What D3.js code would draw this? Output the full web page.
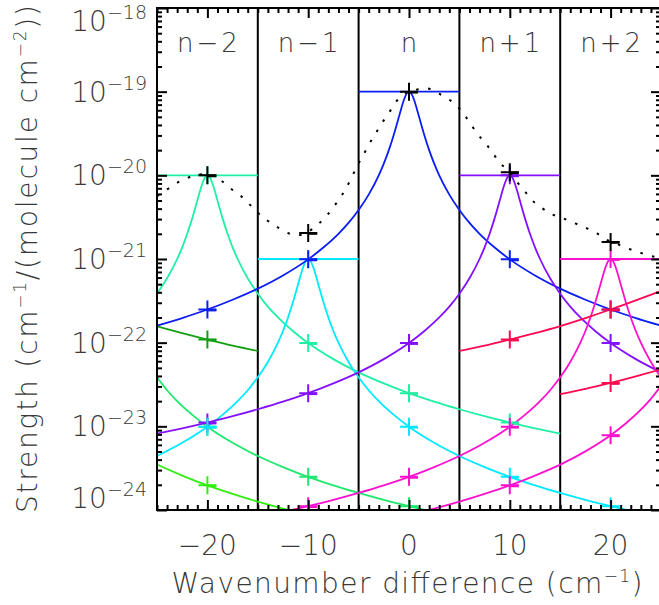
<!DOCTYPE html>
<html><head><meta charset="utf-8">
<script src="https://cdn.jsdelivr.net/npm/d3@7"></script>
<style>
html,body{margin:0;padding:0;background:#fff;}
svg{display:block;}
text{font-family:"DejaVu Sans",sans-serif;font-weight:200;fill:#383838;}
</style>
</head><body>
<svg id="chart" width="659" height="605"></svg>
<script>
// ---------- data ----------
const bandLabels = ["n−2", "n−1", "n", "n+1", "n+2"];
const bandCenters = [-20, -10, 0, 10, 20];
const bandPeaks = [1e-20, 1e-21, 1e-19, 1e-20, 1e-21];
const bandEdges = [-15, -5, 5, 15];
const xTickValues = [-20, -10, 0, 10, 20];
const xTickLabels = ["−20", "−10", "0", "10", "20"];
const yTickValues = [1e-18, 1e-19, 1e-20, 1e-21, 1e-22, 1e-23, 1e-24];
const yTickExponents = ["−18", "−19", "−20", "−21", "−22", "−23", "−24"];

// n (blue), peak at 0
const blueLine = [[-25,1.6e-22],[-22.5,1.97e-22],[-20,2.49e-22],[-17.5,3.26e-22],[-15,4.42e-22],[-12.5,6.36e-22],[-10,9.9e-22],[-8.5,1.37e-21],[-7,2e-21],[-6,2.7e-21],[-5,3.85e-21],[-4,5.88e-21],[-3,1e-20],[-2.5,1.38e-20],[-2,2e-20],[-1.5,3.08e-20],[-1,5e-20],[-0.75,6.4e-20],[-0.5,8e-20],[-0.25,9.41e-20],[0,1e-19],[0.25,9.41e-20],[0.5,8e-20],[0.75,6.4e-20],[1,5e-20],[1.5,3.08e-20],[2,2e-20],[2.5,1.38e-20],[3,1e-20],[4,5.88e-21],[5,3.85e-21],[6,2.7e-21],[7,2e-21],[8.5,1.37e-21],[10,9.9e-22],[12.5,6.36e-22],[15,4.42e-22],[17.5,3.26e-22],[20,2.49e-22],[22.5,1.97e-22],[25,1.6e-22]];
// n-2 (aquamarine), peak at -20
const tealLine = [[-25,3.85e-22],[-24,5.88e-22],[-23,1e-21],[-22.5,1.38e-21],[-22,2e-21],[-21.5,3.08e-21],[-21,5e-21],[-20.75,6.4e-21],[-20.5,8e-21],[-20.25,9.41e-21],[-20,1e-20],[-19.75,9.41e-21],[-19.5,8e-21],[-19.25,6.4e-21],[-19,5e-21],[-18.5,3.08e-21],[-18,2e-21],[-17.5,1.38e-21],[-17,1e-21],[-16,5.88e-22],[-15,3.85e-22],[-14,2.7e-22],[-13,2e-22],[-11.5,1.37e-22],[-10,9.9e-23],[-7.5,6.36e-23],[-5,4.42e-23],[-2.5,3.26e-23],[0,2.49e-23],[2.5,1.97e-23],[5,1.6e-23],[7.5,1.32e-23],[10,1.11e-23],[12.5,9.46e-24],[15,8.16e-24]];
// n-1 (cyan), peak at -10
const cyanLine = [[-25,4.42e-24],[-22.5,6.36e-24],[-20,9.9e-24],[-18.5,1.37e-23],[-17,2e-23],[-16,2.7e-23],[-15,3.85e-23],[-14,5.88e-23],[-13,1e-22],[-12.5,1.38e-22],[-12,2e-22],[-11.5,3.08e-22],[-11,5e-22],[-10.75,6.4e-22],[-10.5,8e-22],[-10.25,9.41e-22],[-10,1e-21],[-9.75,9.41e-22],[-9.5,8e-22],[-9.25,6.4e-22],[-9,5e-22],[-8.5,3.08e-22],[-8,2e-22],[-7.5,1.38e-22],[-7,1e-22],[-6,5.88e-23],[-5,3.85e-23],[-4,2.7e-23],[-3,2e-23],[-1.5,1.37e-23],[0,9.9e-24],[2.5,6.36e-24],[5,4.42e-24],[7.5,3.26e-24],[10,2.49e-24],[12.5,1.97e-24],[15,1.6e-24],[17.5,1.32e-24],[20,1.11e-24],[22.5,9.46e-25],[25,8.16e-25]];
// n+1 (violet), peak at 10
const purpleLine = [[-25,8.16e-24],[-22.5,9.46e-24],[-20,1.11e-23],[-17.5,1.32e-23],[-15,1.6e-23],[-12.5,1.97e-23],[-10,2.49e-23],[-7.5,3.26e-23],[-5,4.42e-23],[-2.5,6.36e-23],[0,9.9e-23],[1.5,1.37e-22],[3,2e-22],[4,2.7e-22],[5,3.85e-22],[6,5.88e-22],[7,1e-21],[7.5,1.38e-21],[8,2e-21],[8.5,3.08e-21],[9,5e-21],[9.25,6.4e-21],[9.5,8e-21],[9.75,9.41e-21],[10,1e-20],[10.25,9.41e-21],[10.5,8e-21],[10.75,6.4e-21],[11,5e-21],[11.5,3.08e-21],[12,2e-21],[12.5,1.38e-21],[13,1e-21],[14,5.88e-22],[15,3.85e-22],[16,2.7e-22],[17,2e-22],[18.5,1.37e-22],[20,9.9e-23],[22.5,6.36e-23],[25,4.42e-23]];
// n+2 (magenta), peak at 20
const magentaLine = [[-15,8.16e-25],[-12.5,9.46e-25],[-10,1.11e-24],[-7.5,1.32e-24],[-5,1.6e-24],[-2.5,1.97e-24],[0,2.49e-24],[2.5,3.26e-24],[5,4.42e-24],[7.5,6.36e-24],[10,9.9e-24],[11.5,1.37e-23],[13,2e-23],[14,2.7e-23],[15,3.85e-23],[16,5.88e-23],[17,1e-22],[17.5,1.38e-22],[18,2e-22],[18.5,3.08e-22],[19,5e-22],[19.25,6.4e-22],[19.5,8e-22],[19.75,9.41e-22],[20,1e-21],[20.25,9.41e-22],[20.5,8e-22],[20.75,6.4e-22],[21,5e-22],[21.5,3.08e-22],[22,2e-22],[22.5,1.38e-22],[23,1e-22],[24,5.88e-23],[25,3.85e-23]];
// n+3 wing (magenta)
const magenta2Line = [[0,8.8e-25],[2.5,1.04e-24],[5,1.26e-24],[7.5,1.56e-24],[10,1.97e-24],[12.5,2.58e-24],[15,3.49e-24],[17.5,5.02e-24],[20,7.82e-24],[21.5,1.08e-23],[23,1.58e-23],[24,2.13e-23],[25,3.04e-23]];
// n-3 wing (spring green)
const springLine = [[-25,3.85e-23],[-24,2.7e-23],[-23,2e-23],[-21.5,1.37e-23],[-20,9.9e-24],[-17.5,6.36e-24],[-15,4.42e-24],[-12.5,3.26e-24],[-10,2.49e-24],[-7.5,1.97e-24],[-5,1.6e-24],[-2.5,1.32e-24],[0,1.11e-24],[2.5,9.46e-25],[5,8.16e-25]];
// n-4 wing (green)
const greenLine = [[-25,3.49e-24],[-22.5,2.58e-24],[-20,1.97e-24],[-17.5,1.56e-24],[-15,1.26e-24],[-12.5,1.04e-24],[-10,8.8e-25],[-5,6.4e-25]];
// dark green segment in n-2 panel
const darkGreenLine = [[-25,1.57e-22],[-22.5,1.3e-22],[-20,1.09e-22],[-17.5,9.2e-23],[-15,7.96e-23]];
// red segments
const red1Line = [[5,7.96e-23],[7.5,9.2e-23],[10,1.09e-22],[12.5,1.3e-22],[15,1.58e-22],[17.5,1.97e-22],[20,2.49e-22],[22.5,3.2e-22],[25,4.15e-22]];
const red2Line = [[15,2.42e-23],[17.5,2.8e-23],[20,3.3e-23],[22.5,3.95e-23],[25,4.8e-23]];
// black dotted envelope
const envelope = [[-25,5.64e-21],[-24,6.78e-21],[-23,8.13e-21],[-22,9.27e-21],[-21.2,1.01e-20],[-20.5,1.03e-20],[-19.5,9.9e-21],[-18.6,8.6e-21],[-17.7,6.97e-21],[-16.7,5.69e-21],[-15.9,4.61e-21],[-15.1,3.66e-21],[-14.1,2.91e-21],[-13.1,2.42e-21],[-11.9,2.02e-21],[-10.9,1.93e-21],[-10,2.12e-21],[-9,2.61e-21],[-8.2,3.25e-21],[-7.48,4.2e-21],[-6.65,5.79e-21],[-5.82,8.77e-21],[-5.1,1.32e-20],[-4.5,1.78e-20],[-3.91,2.41e-20],[-3.31,3.17e-20],[-2.7,4.18e-20],[-2,5.55e-20],[-1.38,7.3e-20],[-0.6,9.2e-20],[0,1.0e-19],[0.63,1.05e-19],[1.79,1.09e-19],[2.8,9.7e-20],[3.8,8.3e-20],[4.7,6.9e-20],[5.59,5.1e-20],[6.25,3.88e-20],[6.9,3.03e-20],[7.74,2.3e-20],[8.39,1.79e-20],[9.06,1.39e-20],[10.05,1.1e-20],[10.71,8.36e-21],[11.54,6.35e-21],[12.2,5.05e-21],[13.03,4.2e-21],[14.02,3.5e-21],[15.34,3.05e-21],[16.5,2.66e-21],[17.66,2.32e-21],[18.65,2.02e-21],[19.5,1.72e-21],[20.7,1.5e-21],[21.7,1.34e-21],[22.85,1.2e-21],[23.94,1.09e-21],[25,1.04e-21]];

// plus markers
const blackMarks = [[-20,1e-20],[-10,2.05e-21],[0,1e-19],[10,1.09e-20],[20,1.6e-21]];
const blueMarks = [[-20,2.49e-22],[-10,9.9e-22],[10,9.9e-22],[20,2.49e-22]];
const tealMarks = [[-20,1e-20],[-10,9.9e-23],[0,2.49e-23],[10,1.11e-23]];
const cyanMarks = [[-20,9.9e-24],[-10,1e-21],[0,9.9e-24],[10,2.49e-24],[20,1.11e-24]];
const purpleMarks = [[-20,1.11e-23],[-10,2.49e-23],[0,9.9e-23],[10,1e-20],[20,9.9e-23]];
const magentaMarks = [[-10,1.11e-24],[0,2.49e-24],[10,9.9e-24],[20,1e-21]];
const magenta2Marks = [[10,1.97e-24],[20,7.82e-24]];
const springMarks = [[-20,9.9e-24],[-10,2.49e-24],[0,1.11e-24]];
const greenMarks = [[-20,1.97e-24]];
const darkGreenMarks = [[-20,1.09e-22]];
const red1Marks = [[10,1.09e-22],[20,2.49e-22]];
const red2Marks = [[20,3.3e-23]];

// ---------- drawing ----------
const colors = {
  teal:"#1ef0a4", cyan:"#00eaff", blue:"#0a1ef5", purple:"#8410ff",
  magenta:"#ff10cf", spring:"#1ee86e", green:"#30ee10", darkGreen:"#12a012", red:"#ff0a50"
};
const bandColors = [colors.teal, colors.cyan, colors.blue, colors.purple, colors.magenta];

const svg = d3.select("#chart");
svg.append("rect").attr("width",659).attr("height",605).attr("fill","#fff");
const x = d3.scaleLinear().domain([-25,25]).range([157,661]);
const y = d3.scaleLog().domain([1e-24,1e-18]).range([510,8]);

svg.append("defs").append("clipPath").attr("id","clip")
  .append("rect").attr("x",157).attr("y",8).attr("width",504).attr("height",502);
const plot = svg.append("g").attr("clip-path","url(#clip)");

// panel separators
plot.selectAll("line.sep").data(bandEdges).join("line").attr("class","sep")
  .attr("x1",d=>x(d)).attr("x2",d=>x(d)).attr("y1",y(1e-18)).attr("y2",y(1e-24))
  .attr("stroke","#000").attr("stroke-width",2);

const line = d3.line().x(d=>x(d[0])).y(d=>y(d[1])).curve(d3.curveMonotoneX);
const curves = [
  [greenLine, colors.green],[springLine, colors.spring],[darkGreenLine, colors.darkGreen],
  [tealLine, colors.teal],[cyanLine, colors.cyan],[blueLine, colors.blue],
  [purpleLine, colors.purple],[magentaLine, colors.magenta],[magenta2Line, colors.magenta],
  [red1Line, colors.red],[red2Line, colors.red]
];
curves.forEach(([data,c])=>{
  plot.append("path").datum(data).attr("d",line).attr("fill","none")
    .attr("stroke",c).attr("stroke-width",1.8);
});
// horizontal peak lines per band
plot.selectAll("line.peak").data(bandCenters).join("line").attr("class","peak")
  .attr("x1",d=>x(d-5)).attr("x2",d=>x(d+5))
  .attr("y1",(d,i)=>y(bandPeaks[i])).attr("y2",(d,i)=>y(bandPeaks[i]))
  .attr("stroke",(d,i)=>bandColors[i]).attr("stroke-width",1.8);

function plus(pts, c){
  const g = plot.append("g");
  g.selectAll("path.a").data(pts).join("path").attr("class","a")
    .attr("d",d=>{const cx=x(d[0]),cy=y(d[1]);return `M${cx-9},${cy}H${cx+9}M${cx},${cy-9}V${cy+9}`;})
    .attr("stroke",c).attr("stroke-width",2).attr("fill","none");
  g.selectAll("path.b").data(pts).join("path").attr("class","b")
    .attr("d",d=>{const cx=x(d[0]),cy=y(d[1]);return `M${cx},${cy+0.6}H${cx+9}`;})
    .attr("stroke",c).attr("stroke-width",2.6).attr("fill","none");
}
plus(greenMarks, colors.green);
plus(springMarks, colors.spring);
plus(darkGreenMarks, colors.darkGreen);
plus(tealMarks, colors.teal);
plus(purpleMarks, colors.purple);
plus(cyanMarks, colors.cyan);
plus(blueMarks, colors.blue);
plus(magenta2Marks, colors.magenta);
plus(magentaMarks, colors.magenta);
plus(red2Marks, colors.red);
plus(red1Marks, colors.red);

// dotted envelope
plot.append("path").datum(envelope).attr("d",line).attr("fill","none")
  .attr("stroke","#000").attr("stroke-width",2).attr("stroke-dasharray","2.5,9.5");
plus(blackMarks, "#000");

// ---------- axes ----------
const minorX = d3.range(-25,26,1).filter(v=>v%10!==0);
const minorY = [];
[-24,-23,-22,-21,-20,-19].forEach(k=>{for(let m=2;m<=9;m++) minorY.push(m*Math.pow(10,k));});
function clean(g){ g.select(".domain").remove(); g.selectAll("text").remove();
  g.selectAll("line").attr("stroke","#000").attr("stroke-width",2); }
svg.append("g").attr("transform","translate(0,510)").call(d3.axisBottom(x).tickValues(minorX).tickSize(-5)).call(clean);
svg.append("g").attr("transform","translate(0,510)").call(d3.axisBottom(x).tickValues(xTickValues).tickSize(-10)).call(clean);
svg.append("g").attr("transform","translate(0,8)").call(d3.axisTop(x).tickValues(minorX).tickSize(-5)).call(clean);
svg.append("g").attr("transform","translate(0,8)").call(d3.axisTop(x).tickValues(xTickValues).tickSize(-10)).call(clean);
svg.append("g").attr("transform","translate(157,0)").call(d3.axisLeft(y).tickValues(minorY).tickSize(-5)).call(clean);
svg.append("g").attr("transform","translate(157,0)").call(d3.axisLeft(y).tickValues(yTickValues).tickSize(-10)).call(clean);
svg.append("g").attr("transform","translate(661,0)").call(d3.axisRight(y).tickValues(minorY).tickSize(-5)).call(clean);
svg.append("g").attr("transform","translate(661,0)").call(d3.axisRight(y).tickValues(yTickValues).tickSize(-10)).call(clean);
svg.append("rect").attr("x",157).attr("y",8).attr("width",504).attr("height",502)
  .attr("fill","none").attr("stroke","#000").attr("stroke-width",2);

// x tick labels
svg.selectAll("text.xt").data(xTickValues).join("text").attr("class","xt")
  .attr("x",d=>x(d)).attr("y",555).attr("text-anchor","middle")
  .attr("font-size",28).text((d,i)=>xTickLabels[i]);
// y tick labels
yTickValues.forEach((v,i)=>{
  const cy = Math.min(Math.max(y(v), 21), 498);
  const t = svg.append("text").attr("x",147).attr("y",cy+10).attr("text-anchor","end").attr("font-size",28);
  t.append("tspan").text("10");
  t.append("tspan").attr("dy",-12).attr("font-size",19).text(yTickExponents[i]);
});
// band labels
svg.selectAll("text.bl").data(bandCenters).join("text").attr("class","bl")
  .attr("x",d=>x(d)+1.5).attr("y",52).attr("text-anchor","middle")
  .attr("font-size",26).attr("letter-spacing",3).text((d,i)=>bandLabels[i]);
// axis titles
const xt = svg.append("text").attr("x",407).attr("y",593).attr("text-anchor","middle").attr("font-size",28)
  .attr("textLength",471).attr("lengthAdjust","spacing");
xt.append("tspan").text("Wavenumber difference (cm");
xt.append("tspan").attr("dy",-11).attr("font-size",17).text("−1");
xt.append("tspan").attr("dy",11).text(")");
const yt = svg.append("text").attr("transform","translate(37,259) rotate(-90)").attr("text-anchor","middle").attr("font-size",28)
  .attr("textLength",508).attr("lengthAdjust","spacing");
yt.append("tspan").text("Strength (cm");
yt.append("tspan").attr("dy",-11).attr("font-size",17).text("−1");
yt.append("tspan").attr("dy",11).text("/(molecule cm");
yt.append("tspan").attr("dy",-11).attr("font-size",17).text("−2");
yt.append("tspan").attr("dy",11).text("))");
</script>
</body></html>
